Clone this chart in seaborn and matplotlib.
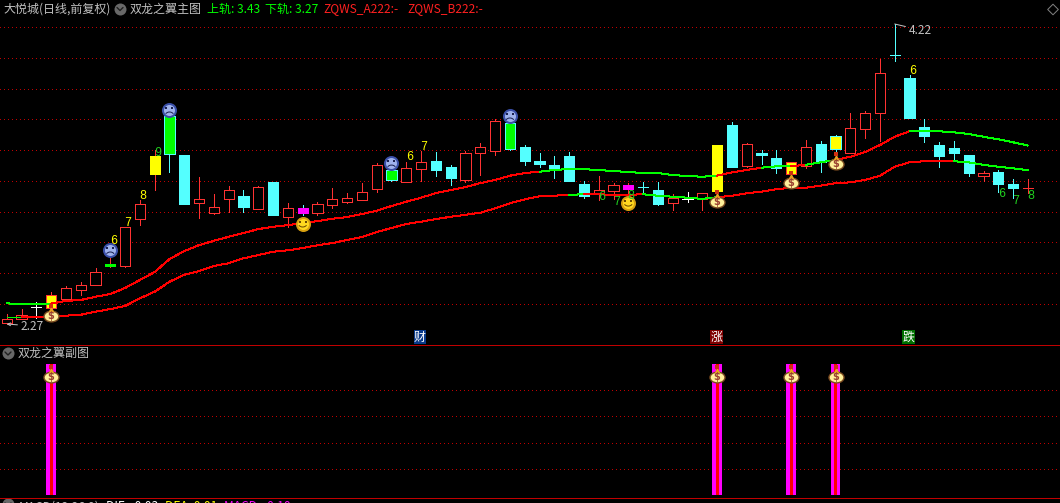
#!/usr/bin/env python
"""双龙之翼 K线截图复刻: 主图 + 副图."""
import matplotlib

matplotlib.use("Agg")
import matplotlib.pyplot as plt
import numpy as np
import seaborn as sns
from matplotlib.path import Path
from matplotlib.transforms import Affine2D, offset_copy

# 每根K线的开高低收
opens = [2.277, 2.303, 2.38, 2.374, 2.432, 2.491, 2.524, 2.647, 2.647, 2.952,
         3.245, 3.622, 3.368, 3.057, 2.992, 3.083, 3.102, 3.018, 3.193, 2.966,
         3.024, 2.992, 3.044, 3.063, 3.076, 3.148, 3.271, 3.193, 3.277, 3.33,
         3.29, 3.206, 3.382, 3.394, 3.577, 3.421, 3.33, 3.303, 3.362, 3.18,
         3.115, 3.135, 3.148, 3.16, 3.141, 3.057, 3.082, 3.082, 3.433, 3.564,
         3.297, 3.382, 3.349, 3.245, 3.297, 3.44, 3.492, 3.382, 3.537, 3.641,
         4.018, 3.869, 3.551, 3.433, 3.414, 3.369, 3.232, 3.258, 3.18, 3.154]
highs = [2.335, 2.367, 2.413, 2.478, 2.517, 2.543, 2.634, 2.705, 2.9, 3.076,
         3.401, 3.622, 3.368, 3.226, 3.115, 3.167, 3.141, 3.167, 3.193, 3.056,
         3.043, 3.063, 3.154, 3.122, 3.186, 3.316, 3.303, 3.323, 3.394, 3.388,
         3.303, 3.394, 3.447, 3.603, 3.59, 3.434, 3.382, 3.362, 3.388, 3.2,
         3.232, 3.186, 3.186, 3.193, 3.193, 3.115, 3.128, 3.121, 3.433, 3.583,
         3.446, 3.401, 3.401, 3.323, 3.466, 3.459, 3.498, 3.641, 3.654, 3.992,
         4.22, 3.889, 3.603, 3.453, 3.459, 3.369, 3.264, 3.271, 3.212, 3.212]
lows = [2.27, 2.303, 2.309, 2.35, 2.42, 2.458, 2.524, 2.64, 2.64, 2.913,
        3.141, 3.258, 3.05, 2.959, 2.985, 3.0, 3.0, 3.018, 2.979, 2.9,
        2.979, 2.979, 3.024, 3.056, 3.076, 3.128, 3.2, 3.193, 3.2, 3.232,
        3.173, 3.193, 3.239, 3.369, 3.401, 3.303, 3.291, 3.219, 3.2, 3.089,
        3.076, 3.082, 3.109, 3.121, 3.044, 3.011, 3.063, 3.011, 3.095, 3.29,
        3.29, 3.31, 3.252, 3.219, 3.284, 3.258, 3.349, 3.382, 3.479, 3.46,
        3.98, 3.609, 3.453, 3.29, 3.343, 3.232, 3.2, 3.128, 3.089, 3.121]
closes = [2.303, 2.328, 2.38, 2.458, 2.504, 2.524, 2.608, 2.66, 2.9, 3.05,
          3.362, 3.375, 3.05, 3.083, 3.03, 3.141, 3.03, 3.16, 2.979, 3.024,
          2.992, 3.05, 3.083, 3.089, 3.128, 3.303, 3.206, 3.284, 3.323, 3.271,
          3.219, 3.382, 3.421, 3.59, 3.408, 3.33, 3.31, 3.271, 3.2, 3.102,
          3.141, 3.174, 3.174, 3.159, 3.05, 3.089, 3.082, 3.121, 3.134, 3.29,
          3.44, 3.369, 3.284, 3.323, 3.42, 3.323, 3.408, 3.544, 3.641, 3.901,
          4.017, 3.609, 3.492, 3.362, 3.382, 3.251, 3.251, 3.18, 3.154, 3.154]

# 上下轨
upper_rail = [2.405, 2.397, 2.397, 2.403, 2.42, 2.426, 2.447, 2.465, 2.504, 2.556,
              2.608, 2.692, 2.744, 2.783, 2.811, 2.837, 2.861, 2.887, 2.902, 2.913,
              2.926, 2.939, 2.954, 2.965, 2.985, 3.006, 3.037, 3.065, 3.091, 3.121,
              3.141, 3.16, 3.186, 3.206, 3.234, 3.251, 3.26, 3.271, 3.278, 3.276,
              3.271, 3.264, 3.258, 3.251, 3.251, 3.238, 3.232, 3.227, 3.234, 3.256,
              3.271, 3.286, 3.295, 3.295, 3.305, 3.321, 3.336, 3.357, 3.388, 3.433,
              3.487, 3.523, 3.523, 3.523, 3.516, 3.505, 3.487, 3.471, 3.451, 3.43]
lower_rail = [2.314, 2.314, 2.315, 2.319, 2.324, 2.33, 2.35, 2.367, 2.387, 2.437,
              2.48, 2.545, 2.59, 2.614, 2.647, 2.665, 2.697, 2.718, 2.74, 2.749,
              2.764, 2.782, 2.796, 2.816, 2.836, 2.868, 2.894, 2.92, 2.935, 2.952,
              2.967, 2.98, 2.993, 3.022, 3.055, 3.08, 3.1, 3.104, 3.11, 3.113,
              3.113, 3.11, 3.11, 3.113, 3.104, 3.097, 3.091, 3.083, 3.094, 3.104,
              3.12, 3.13, 3.146, 3.156, 3.156, 3.169, 3.185, 3.191, 3.206, 3.234,
              3.292, 3.321, 3.328, 3.328, 3.328, 3.321, 3.304, 3.292, 3.282, 3.27]
upper_runs = [(0, 3, "g"), (3, 36, "r"), (36, 48, "g"), (48, 51, "r"), (51, 53, "g"),
              (53, 54, "r"), (54, 56, "g"), (56, 61, "r"), (61, 69, "g")]
lower_runs = [(0, 1, "g"), (1, 38, "r"), (38, 39, "g"), (39, 43, "r"), (43, 48, "g"),
              (48, 64, "r"), (64, 69, "g")]

yellow_bars = [3, 10, 48, 53, 56]
green_bars = [7, 11, 26, 34]
magenta_bars = [20, 42]
plain_edge_bars = [7, 10, 48]
white_bars = [2, 46]

bag_idx = [3, 48, 53, 56]
bag_price = [2.322, 3.063, 3.186, 3.31]
sad_idx = [7, 11, 26, 34]
sad_price = [2.751, 3.661, 3.316, 3.622]
smile_idx = [20, 42]
smile_price = [2.92, 3.056]

count_idx = [7, 8, 9, 27, 28, 61, 10, 40, 41, 42, 67, 68, 69]
count_price = [2.81, 2.926, 3.102, 3.355, 3.42, 3.914,
               3.381, 3.096, 3.063, 3.102, 3.115, 3.069, 3.102]
count_text = ["6", "7", "8", "6", "7", "6", "9", "6", "7", "8", "6", "7", "8"]
count_color = ["y", "y", "y", "y", "y", "y", "g", "g", "g", "g", "g", "g", "g"]

main_grid = [2.4, 2.6, 2.8, 3.0, 3.2, 3.4, 3.6, 3.8, 4.0, 4.2]
sub_grid = [0.2, 0.4, 0.6, 0.8]
sub_hits = [3, 48, 53, 56]

RED = "#ff3232"
RAIL_RED = "#ff0000"
CYAN = "#54ffff"
GREEN = "#00ff00"
YELLOW = "#ffff00"
MAGENTA = "#ff00ff"
GREY = "#c0c0c0"
GRID = "#c00000"
SEP = "#c00000"
STEP = 14.8
X0 = 6.7
W, H = 1060, 503
LW = 0.72  # 1 px

idx = np.arange(len(opens))


def shifted(ax, dx, dy):
    return offset_copy(ax.transData, fig=ax.figure, x=dx, y=dy, units="dots")


def panel(fig, top, bottom, ylim):
    ax = fig.add_axes([0, 1 - bottom / H, 1, (bottom - top) / H])
    ax.set_xlim(-X0 / STEP, (W - X0) / STEP)
    ax.set_ylim(*ylim)
    ax.set_axis_off()
    return ax


def draw_bag(ax, x, y):
    size = 15 * LW
    ellipse = Path.unit_circle().transformed(Affine2D().scale(1, 0.72))
    ax.scatter(x, y, marker=ellipse, s=size**2, color="#fff09a", edgecolors="#7a4a20",
               linewidths=1.0, zorder=6)
    ax.scatter(x, y, marker="^", s=(6 * LW) ** 2, color="#e8a020", linewidths=0,
               transform=shifted(ax, 0, 7), zorder=6)
    ax.scatter(x, y, marker="s", s=(4 * LW) ** 2, color="#d03010", linewidths=0,
               transform=shifted(ax, 0, 10), zorder=6)
    ax.text(x, y, "$", color="#9a4030", fontsize=7, fontweight="bold", ha="center",
            va="center", family="DejaVu Sans", zorder=7)


def draw_face(ax, x, y, outer, inner, ink, mouth, mouth_dy):
    ax.scatter(x, y, s=(15 * LW) ** 2, color=outer, linewidths=0, zorder=6)
    ax.scatter(x, y, s=(11 * LW) ** 2, color=inner, linewidths=0, zorder=6)
    for dx in (-3, 3):
        ax.scatter(x, y, marker="s", s=(2 * LW) ** 2, color=ink, linewidths=0,
                   transform=shifted(ax, dx, 2), zorder=7)
    ax.scatter(x, y, marker=mouth, s=(10 * LW) ** 2, facecolors="none", edgecolors=ink,
               linewidths=LW, transform=shifted(ax, 0, mouth_dy), zorder=7)


sns.set_theme(style="dark", rc={"figure.facecolor": "black", "axes.facecolor": "black"})
plt.rcParams["font.family"] = ["Noto Sans CJK SC", "DejaVu Sans"]

fig = plt.figure(figsize=(W / 100, H / 100), dpi=100)

# 主图
ax = panel(fig, 0, 344, (2.14, 4.376))
ax.hlines(main_grid, *ax.get_xlim(), colors=GRID, linewidth=LW, linestyles=(0, (1, 3)),
          antialiased=False, zorder=1)

for i in idx:
    up = closes[i] >= opens[i]
    wick = RED if up else CYAN
    if i in white_bars:
        wick = "white"
    face = "black" if up else CYAN
    edge = wick
    if i in yellow_bars:
        face = YELLOW
    elif i in green_bars:
        face = GREEN
    elif i in magenta_bars:
        face = MAGENTA
    if i in plain_edge_bars:
        edge = face
    if i == 20:
        wick = CYAN
        edge = MAGENTA
    elif i == 42:
        edge = MAGENTA
    ax.vlines(i, lows[i], highs[i], colors=wick, linewidth=LW, antialiased=False, zorder=2)
    low_body, high_body = min(opens[i], closes[i]), max(opens[i], closes[i])
    ax.bar(i, high_body - low_body, bottom=low_body, width=0.68, facecolor=face, edgecolor=edge,
           linewidth=LW, antialiased=False, zorder=3)

for rail, runs in ((upper_rail, upper_runs), (lower_rail, lower_runs)):
    for start, end, tone in runs:
        sns.lineplot(x=idx[start:end + 1], y=rail[start:end + 1], ax=ax, estimator=None,
                     color=GREEN if tone == "g" else RAIL_RED, linewidth=LW,
                     antialiased=False, legend=False, zorder=4)
ax.set_xlim(-X0 / STEP, (W - X0) / STEP)
ax.set_ylim(2.14, 4.376)

for x, y, label, tone in zip(count_idx, count_price, count_text, count_color):
    ax.text(x, y, label, color=YELLOW if tone == "y" else "#20d020", fontsize=8.6,
            family="Liberation Mono", ha="center", va="center",
            transform=shifted(ax, 3, 0), zorder=7)

for x, y in zip(bag_idx, bag_price):
    draw_bag(ax, x, y)
frown = Path.arc(40, 140)
grin = Path.arc(220, 320)
for x, y in zip(sad_idx, sad_price):
    draw_face(ax, x, y, "#3a4fa8", "#9fb2ec", "#1a2050", frown, -7)
for x, y in zip(smile_idx, smile_price):
    draw_face(ax, x, y, "#d8a010", "#ffd820", "#6a4800", grin, 2)

ax.annotate("4.22", xy=(60, 4.22), xytext=(14, -6), textcoords="offset pixels", color=GREY,
            fontsize=8.6, ha="left", va="center", zorder=7,
            arrowprops=dict(arrowstyle="-", color=GREY, lw=LW, shrinkA=0, shrinkB=0))
ax.annotate("2.27", xy=(0, 2.27), xytext=(14, -2), textcoords="offset pixels", color=GREY,
            fontsize=8.6, ha="left", va="center", zorder=7,
            arrowprops=dict(arrowstyle="->", color=GREY, lw=LW, shrinkA=0, shrinkB=0,
                            mutation_scale=5))

# 副图
sub = panel(fig, 345, 497, (-2 / 131, 1 + 19 / 131))
sub.hlines(sub_grid, *sub.get_xlim(), colors=GRID, linewidth=LW, linestyles=(0, (1, 3)),
           antialiased=False, zorder=1)
signal = [1.0 if i in sub_hits else 0.0 for i in idx]
sns.barplot(x=idx, y=signal, native_scale=True, width=0.63, color=MAGENTA, saturation=1,
            linewidth=0, antialiased=False, ax=sub, zorder=3)
sns.barplot(x=idx, y=signal, native_scale=True, width=0.19, color=RAIL_RED, saturation=1,
            linewidth=0, antialiased=False, ax=sub, zorder=4)
sub.set_xlim(-X0 / STEP, (W - X0) / STEP)
sub.set_ylim(-2 / 131, 1 + 19 / 131)
sub.set_axis_off()
for x in sub_hits:
    draw_bag(sub, x, 0.9)

# 标题, 分隔线, 小图标: 用像素坐标
top = fig.add_axes([0, 0, 1, 1], facecolor="none")
top.set_xlim(0, W)
top.set_ylim(H, 0)
top.set_axis_off()
top.hlines([344.5, 497.5], 0, W, colors=SEP, linewidth=LW, antialiased=False)


def caption(x, y, text, color, **kw):
    top.text(x, y, text, color=color, fontsize=8.64, ha="left", va="center", **kw)


for x, y in ((120, 8.5), (8, 353), (8, 504)):
    top.scatter(x, y, s=(12 * LW) ** 2, color="#686868", linewidths=0)
    top.plot([x - 3, x, x + 3], [y - 1, y + 2, y - 1], color="#202020", lw=1.0)
top.scatter(1053, 9.5, marker="D", s=(7.5 * LW) ** 2, facecolors="none", edgecolors="#808080",
            linewidths=LW)

caption(3, 9, "大悦城(日线,前复权)", GREY)
caption(130, 9, "双龙之翼主图", GREY)
caption(207, 9, "上轨: 3.43", GREEN)
caption(265, 9, "下轨: 3.27", GREEN)
caption(323, 9, "ZQWS_A222:-", "#ff2020")
caption(407, 9, "ZQWS_B222:-", "#ff2020")
caption(18, 353, "双龙之翼副图", GREY)
caption(19, 507, "MACD(12,26,9)", GREY)
caption(106, 507, "DIF: -0.03", "white")
caption(165, 507, "DEA: 0.01", YELLOW)
caption(224, 507, "MACD: -0.10", MAGENTA)

for x, label, back in ((420, "财", "#0a3a8a"), (716.5, "涨", "#800000"), (908.5, "跌", "#007000")):
    top.text(x, 337, label, color="white", fontsize=8.64, ha="center", va="center",
             bbox=dict(boxstyle="square,pad=0.04", facecolor=back, edgecolor="none"))

fig.savefig("out.png", dpi=100, facecolor="black")
plt.close(fig)
